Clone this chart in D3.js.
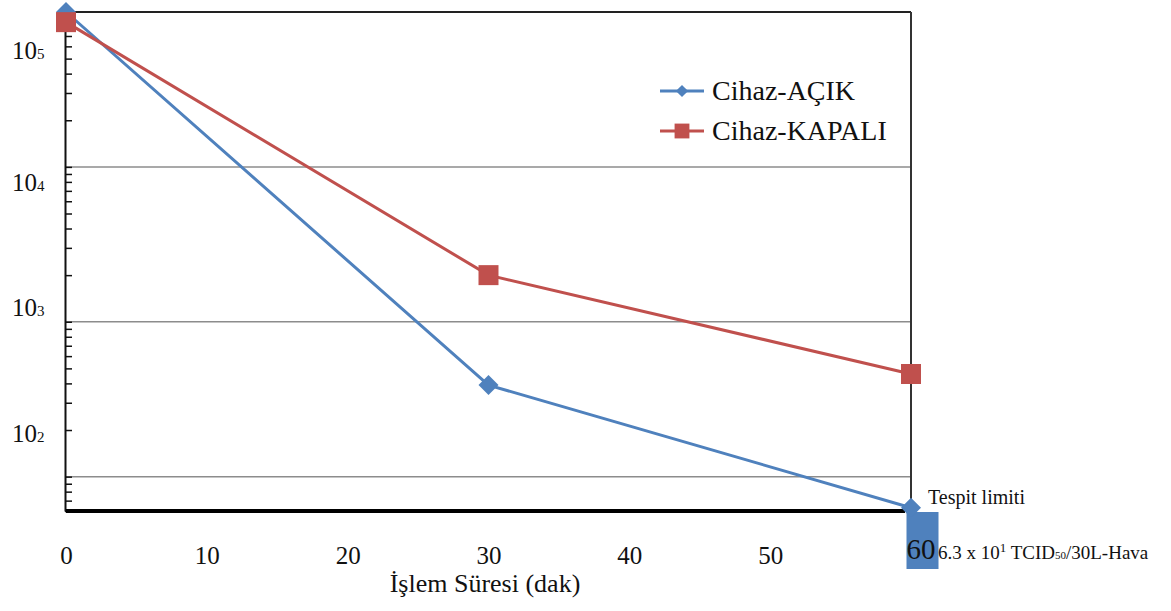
<!DOCTYPE html>
<html lang="tr">
  <head>
    <meta charset="utf-8">
    <style type="text/css">
      body { margin: 0; background: white; }
      svg { font-family: "Liberation Serif", "DejaVu Serif", serif; }
      .grid line { stroke: #8c8c8c; stroke-width: 1.5px; }
      .series path.line { fill: none; stroke-width: 3px; }
    </style>
  </head>
  <body>
    <script src="https://cdnjs.cloudflare.com/ajax/libs/d3/7.8.5/d3.min.js" type="text/javascript"></script>
    <svg id="chart"></svg>

    <script type="text/javascript">
// data
var minutes = [0, 30, 60];
var acik = [100000, 390, 63];
var kapali = [86000, 2000, 460];
var seriesNames = ["Cihaz-AÇIK", "Cihaz-KAPALI"];
var xTicks = [0, 10, 20, 30, 40, 50, 60];
var gridValues = [100, 1000, 10000];
var yLabelExps = ["5", "4", "3", "2"];
var yLabelAt = [57000, 7900, 1250, 192];   // value where each label sits in the original
var yMin = 60, yMax = 100000;

var width = 1171, height = 611;
var margin = { top: 12, left: 66, right: 260, bottom: 100 };
var plotW = width - margin.left - margin.right;   // 845
var plotH = height - margin.top - margin.bottom;  // 499

var colors = ["#4F81BD", "#C0504D"];
var symbols = [d3.symbolDiamond2, d3.symbolSquare];

var svg = d3.select("#chart")
  .attr("width", width)
  .attr("height", height);

var g = svg.append("g")
  .attr("transform", "translate(" + margin.left + "," + margin.top + ")");

var x = d3.scaleLinear().domain([0, 60]).range([0, plotW]);
var y = d3.scaleLog().domain([yMin, yMax]).range([plotH, 0]);

// gridlines
g.append("g").attr("class", "grid")
  .selectAll("line").data(gridValues).enter()
  .append("line")
  .attr("x1", 0).attr("x2", plotW)
  .attr("y1", function(d) { return y(d); })
  .attr("y2", function(d) { return y(d); });

// top border and right border
g.append("line")
  .attr("x1", 0).attr("x2", plotW)
  .attr("y1", y(yMax)).attr("y2", y(yMax))
  .style("stroke", "#222").style("stroke-width", 2);
g.append("line")
  .attr("x1", plotW).attr("x2", plotW)
  .attr("y1", y(yMax)).attr("y2", plotH)
  .style("stroke", "#333").style("stroke-width", 2);

// left axis, ticks pointing inward
var yAxis = d3.axisRight(y)
  .tickValues(y.ticks())
  .tickSize(7)
  .tickSizeOuter(0)
  .tickFormat("");
var yAxisGroup = g.append("g")
  .attr("class", "y axis")
  .attr("transform", "translate(-1,0)")
  .call(yAxis);
yAxisGroup.select(".domain").style("stroke", "#111").style("stroke-width", 2);
yAxisGroup.selectAll(".tick line").style("stroke", "#111").style("stroke-width", 1.5);

// y labels written as "10" followed by a small digit
var yLabels = g.append("g").selectAll("text")
  .data(yLabelExps).enter()
  .append("text")
  .attr("x", -54)
  .attr("y", function(d, i) { return y(yLabelAt[i]); })
  .attr("dy", "0.35em")
  .style("font-size", "25px")
  .style("fill", "#111");
yLabels.append("tspan").text("10");
yLabels.append("tspan").style("font-size", "15px").text(function(d) { return d; });

// x axis
var xAxis = d3.axisBottom(x)
  .tickValues(xTicks)
  .tickSize(0)
  .tickPadding(35)
  .tickFormat(d3.format("d"));
var xAxisGroup = g.append("g")
  .attr("class", "x axis")
  .attr("transform", "translate(0," + plotH + ")")
  .call(xAxis);
xAxisGroup.select(".domain")
  .attr("d", "M0,0H" + (plotW - 6))
  .style("stroke", "#000").style("stroke-width", 4);
xAxisGroup.selectAll(".tick text")
  .style("font-family", "Liberation Serif, serif")
  .style("font-size", "25px")
  .style("fill", "#111");

// the last tick label sits in a blue box
var lastTick = xAxisGroup.selectAll(".tick").filter(function(d) { return d === 60; });
lastTick.insert("rect", "text")
  .attr("x", -5).attr("y", 1)
  .attr("width", 32).attr("height", 57)
  .style("fill", "#4F81BD");
lastTick.select("text")
  .attr("x", -5).attr("y", 48).attr("dy", null)
  .style("text-anchor", "start")
  .style("font-size", "29px");

// axis title
g.append("text")
  .attr("x", 419)
  .attr("y", plotH + 81)
  .style("text-anchor", "middle")
  .style("font-size", "26px")
  .style("fill", "#111")
  .text("İşlem Süresi (dak)");

// series
var series = [
  { name: seriesNames[0], values: acik },
  { name: seriesNames[1], values: kapali }
];

var line = d3.line()
  .x(function(d, i) { return x(minutes[i]); })
  .y(function(d) { return y(d); });

var groups = g.selectAll("g.series").data(series).enter()
  .append("g").attr("class", "series");

groups.append("path")
  .attr("class", "line")
  .attr("d", function(d) { return line(d.values); })
  .style("stroke", function(d, i) { return colors[i]; });

groups.each(function(s, si) {
  d3.select(this).selectAll("path.mark").data(s.values).enter()
    .append("path")
    .attr("class", "mark")
    .attr("transform", function(d, i) { return "translate(" + x(minutes[i]) + "," + y(d) + ")"; })
    .attr("d", d3.symbol().type(symbols[si]).size(si === 0 ? 255 : 400))
    .style("fill", colors[si]);
});

// legend
var legend = svg.append("g")
  .attr("transform", "translate(660,91)");
var items = legend.selectAll("g").data(series).enter()
  .append("g")
  .attr("transform", function(d, i) { return "translate(0," + i * 40 + ")"; });
items.append("line")
  .attr("x1", 0).attr("x2", 44)
  .attr("y1", 0).attr("y2", 0)
  .style("stroke", function(d, i) { return colors[i]; })
  .style("stroke-width", 3);
items.append("path")
  .attr("transform", "translate(22,0)")
  .attr("d", function(d, i) { return d3.symbol().type(symbols[i]).size(i === 0 ? 95 : 220)(); })
  .style("fill", function(d, i) { return colors[i]; });
items.append("text")
  .attr("x", 52)
  .attr("y", 0)
  .attr("dy", "0.33em")
  .style("font-size", "28px")
  .style("fill", "#111")
  .text(function(d) { return d.name; });

// detection limit notes
svg.append("text")
  .attr("x", 928)
  .attr("y", 504)
  .style("font-size", "20px")
  .style("fill", "#111")
  .text("Tespit limiti");

var note = svg.append("text")
  .attr("x", 938)
  .attr("y", 559)
  .style("font-size", "19px")
  .style("fill", "#111");
note.append("tspan").text("6.3 x 10");
note.append("tspan").attr("dy", "-7").style("font-size", "13px").text("1");
note.append("tspan").attr("dy", "7").text(" TCID");
note.append("tspan").style("font-size", "11px").text("50");
note.append("tspan").text("/30L-Hava");
    </script>
  </body>
</html>
